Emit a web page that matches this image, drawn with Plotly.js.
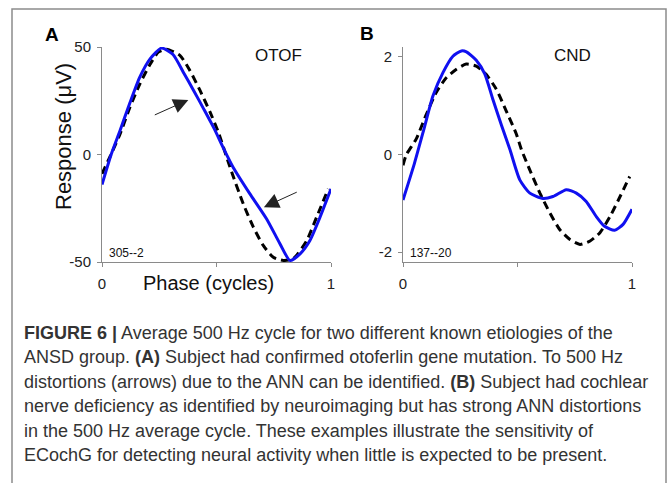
<!DOCTYPE html>
<html>
<head>
<meta charset="utf-8">
<script src="https://cdn.plot.ly/plotly-3.0.1.min.js"></script>
<style>html,body{margin:0;padding:0;background:#fff;}#chart{width:670px;height:483px;}</style>
</head>
<body>
<div id="chart"></div>
<script>
// Panel A (OTOF): response in µV vs phase (cycles)
const phaseA_avg = [0, 0.04, 0.08, 0.12, 0.165, 0.21, 0.26, 0.31, 0.355, 0.40, 0.445, 0.49, 0.53, 0.573, 0.646, 0.719, 0.777, 0.821, 0.865, 0.908, 0.952, 1.0];
const respA_avg  = [-14, 0, 11.5, 23.5, 36, 44.5, 49.5, 46.5, 38.3, 29.8, 21, 12, 3, -6, -18.3, -30, -41.5, -49.3, -46.2, -40, -29.2, -16];
const phaseA_fit = [0, 0.035, 0.079, 0.122, 0.166, 0.21, 0.246, 0.282, 0.341, 0.384, 0.428, 0.472, 0.508, 0.559, 0.617, 0.661, 0.704, 0.748, 0.792, 0.835, 0.894, 0.937, 0.988];
const respA_fit  = [-9, -1, 9.6, 22, 33, 42, 47.6, 49, 46, 39, 29.8, 19.7, 10.4, -5.9, -23, -33.8, -42.3, -47.8, -49.3, -48.5, -40, -29.2, -16];

// Panel B (CND)
const phaseB_avg = [0, 0.05, 0.092, 0.131, 0.175, 0.218, 0.255, 0.277, 0.32, 0.357, 0.393, 0.43, 0.467, 0.51, 0.554, 0.611, 0.655, 0.713, 0.757, 0.8, 0.844, 0.88, 0.924, 0.961, 1.0];
const respB_avg  = [-0.93, -0.18, 0.53, 1.2, 1.68, 2.01, 2.12, 2.1, 1.93, 1.65, 1.12, 0.6, 0.1, -0.52, -0.79, -0.9, -0.86, -0.72, -0.79, -0.96, -1.27, -1.47, -1.55, -1.43, -1.12];
const phaseB_fit = [0, 0.014, 0.058, 0.1, 0.145, 0.189, 0.232, 0.276, 0.32, 0.363, 0.407, 0.45, 0.494, 0.518, 0.554, 0.598, 0.642, 0.685, 0.729, 0.773, 0.817, 0.86, 0.904, 0.948, 0.99];
const respB_fit  = [-0.22, -0.01, 0.32, 0.8, 1.27, 1.57, 1.74, 1.85, 1.81, 1.64, 1.34, 0.9, 0.43, 0.09, -0.32, -0.79, -1.2, -1.54, -1.74, -1.84, -1.77, -1.6, -1.27, -0.86, -0.45];

const xTickVals = [0, 0.5, 1];
const xTickText = ['0', '', '1'];
const yTickValsA = [-50, 0, 50];
const yTickTextA = ['-50', '0', '50'];
const yTickValsB = [-2, 0, 2];
const yTickTextB = ['-2', '0', '2'];

const panelLabels = ['A', 'B'];
const panelNames = ['OTOF', 'CND'];
const subjectIds = ['305--2', '137--20'];
const yTitle = 'Response (\u03bcV)';
const xTitle = 'Phase (cycles)';
const captionLines = [
  '<b>FIGURE 6 |</b> Average 500 Hz cycle for two different known etiologies of the',
  'ANSD group. <b>(A)</b> Subject had confirmed otoferlin gene mutation. To 500 Hz',
  'distortions (arrows) due to the ANN can be identified. <b>(B)</b> Subject had cochlear',
  'nerve deficiency as identified by neuroimaging but has strong ANN distortions',
  'in the 500 Hz average cycle. These examples illustrate the sensitivity of',
  'ECochG for detecting neural activity when little is expected to be present.'
];

const W = 670, H = 483;
const px = v => v / W;
const py = v => 1 - v / H;

const blue = {color: '#1010f0', width: 3, shape: 'spline', smoothing: 0.6};
const dash = {color: '#000000', width: 3, dash: '8px,5px', shape: 'spline', smoothing: 0.6};

const traces = [
  {x: phaseA_fit, y: respA_fit, xaxis: 'x', yaxis: 'y', mode: 'lines', line: dash, hoverinfo: 'skip'},
  {x: phaseA_avg, y: respA_avg, xaxis: 'x', yaxis: 'y', mode: 'lines', line: blue, hoverinfo: 'skip'},
  {x: phaseB_fit, y: respB_fit, xaxis: 'x2', yaxis: 'y2', mode: 'lines', line: dash, hoverinfo: 'skip'},
  {x: phaseB_avg, y: respB_avg, xaxis: 'x2', yaxis: 'y2', mode: 'lines', line: blue, hoverinfo: 'skip'}
];

const FAM = 'Liberation Sans, Arial, sans-serif';
const tickFont = {family: FAM, size: 15, color: '#222'};
const axCommon = {
  showgrid: false, zeroline: false, showline: true, linecolor: '#8a8a8a', linewidth: 1,
  ticks: 'outside', ticklen: 4, tickcolor: '#8a8a8a', tickfont: tickFont, fixedrange: true
};
const yDomain = [1 - 262 / H, 1 - 47 / H];

const layout = {
  width: W, height: H,
  margin: {l: 0, r: 0, t: 0, b: 0},
  paper_bgcolor: '#fff', plot_bgcolor: 'rgba(0,0,0,0)',
  showlegend: false,
  xaxis: Object.assign({}, axCommon, {domain: [px(102), px(331)], range: [0, 1], tickvals: xTickVals, ticktext: xTickText, anchor: 'y', ticklabelstandoff: 4}),
  yaxis: Object.assign({}, axCommon, {domain: yDomain, range: [-50, 50], tickvals: yTickValsA, ticktext: yTickTextA, anchor: 'x', ticklabelstandoff: 3}),
  xaxis2: Object.assign({}, axCommon, {domain: [px(403), px(632)], range: [0, 1], tickvals: xTickVals, ticktext: xTickText, anchor: 'y2', ticklabelstandoff: 4}),
  yaxis2: Object.assign({}, axCommon, {domain: yDomain, range: [-2.2, 2.2], tickvals: yTickValsB, ticktext: yTickTextB, anchor: 'x2', ticklabelstandoff: 3}),
  shapes: [
    {type: 'rect', xref: 'paper', yref: 'paper', x0: px(12), x1: px(666), y0: -0.05, y1: py(9),
     line: {color: '#8c8c8c', width: 1.5}, fillcolor: 'rgba(0,0,0,0)', layer: 'below'}
  ],
  annotations: []
};

const f = (size, extra) => Object.assign({family: FAM, size: size, color: '#111'}, extra || {});
const ann = layout.annotations;
const label = (x, y, text, font, extra) => ann.push(Object.assign({xref: 'paper', yref: 'paper', x: px(x), y: py(y),
  xanchor: 'center', yanchor: 'middle', text: text, showarrow: false, font: font}, extra || {}));
label(52, 35, '<b>' + panelLabels[0] + '</b>', f(19, {color: '#000'}));
label(367, 33, '<b>' + panelLabels[1] + '</b>', f(19, {color: '#000'}));
label(278, 55, panelNames[0], f(17));
label(572, 55, panelNames[1], f(17));
label(107, 253, subjectIds[0], f(12), {xanchor: 'left'});
label(408, 253, subjectIds[1], f(12), {xanchor: 'left'});
label(63, 137, yTitle, f(22), {textangle: -90});
label(208, 283, xTitle, f(20));
// arrows marking ANN distortions (tip at data coords, tail via ax/ay)
ann.push({xref: 'x', yref: 'y', axref: 'x', ayref: 'y', x: 0.377, y: 25.4, ax: 0.224, ay: 18.1, text: '', showarrow: true,
  arrowhead: 2, arrowsize: 3, arrowwidth: 1, arrowcolor: '#222', standoff: 0});
ann.push({xref: 'x', yref: 'y', axref: 'x', ayref: 'y', x: 0.707, y: -24.5, ax: 0.857, ay: -17.2, text: '', showarrow: true,
  arrowhead: 2, arrowsize: 3, arrowwidth: 1, arrowcolor: '#222', standoff: 0});
// caption
const capY = [333, 357.4, 381.8, 406.2, 430.6, 455];
captionLines.forEach((t, i) => label(22, capY[i], t, f(18, {color: '#333'}), {xanchor: 'left'}));

Plotly.newPlot('chart', traces, layout, {staticPlot: true, displayModeBar: false});
</script>
</body>
</html>
